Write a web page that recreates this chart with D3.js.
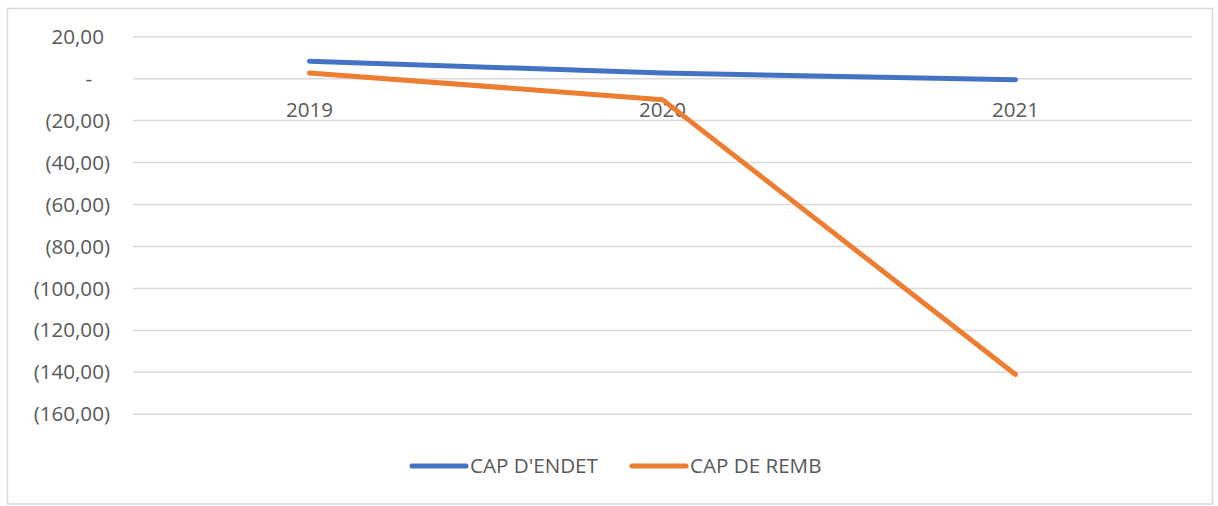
<!DOCTYPE html>
<html>
  <head>
    <meta charset="utf-8">
    <title>CAP D'ENDET / CAP DE REMB</title>
    <script src="https://d3js.org/d3.v7.min.js"></script>
    <style>
      body { margin: 0; background: #fff; }
      svg { display: block; font-family: "Open Sans", sans-serif; }
    </style>
  </head>
  <body>
    <svg id="chart" width="1218" height="506"></svg>
<script>
  // data
  let years = ['2019', '2020', '2021'];
  let capEndet = [8.3, 2.7, -0.5];
  let capRemb = [2.7, -10, -141];
  let seriesNames = ["CAP D'ENDET", 'CAP DE REMB'];
  let seriesColors = ['#4472C4', '#ED7D31'];
  let yTicks = [20, 0, -20, -40, -60, -80, -100, -120, -140, -160];

  let svg = d3.select('#chart');

  let margin = { top: 36.7, left: 133, right: 26, bottom: 91.7 };
  let plotWidth = 1218 - margin.left - margin.right;
  let plotHeight = 506 - margin.top - margin.bottom;
  let fontSize = '20.6px';

  // outer chart border
  svg.append('rect')
    .attr('x', 7.5).attr('y', 8.5)
    .attr('width', 1205).attr('height', 495.5)
    .attr('fill', 'none')
    .attr('stroke', '#d9d9d9')
    .attr('stroke-width', 1.5);

  let plot = svg.append('g').attr('transform', translate(margin.left, margin.top));

  let x = d3.scaleBand().domain(years).range([0, plotWidth]);
  let y = d3.scaleLinear().domain([-160, 20]).range([plotHeight, 0]);

  let fr = d3.formatLocale({ decimal: ',', thousands: ' ', grouping: [3], currency: ['', ''] });
  let fmt = fr.format('.2f');

  // gridlines
  plot.append('g')
    .selectAll('line')
    .data(yTicks)
    .join('line')
    .attr('x1', 0).attr('x2', plotWidth)
    .attr('y1', d => y(d)).attr('y2', d => y(d))
    .attr('stroke', '#d9d9d9')
    .attr('stroke-width', 1.5);

  // y axis labels, accounting style
  let yAxis = d3.axisLeft(y).tickValues(yTicks).tickSize(0).tickPadding(23)
    .tickFormat(d => d < 0 ? '(' + fmt(-d) + ')' : (d === 0 ? '-' : fmt(d)));
  let yGroup = plot.append('g').call(yAxis);
  yGroup.select('.domain').remove();
  yGroup.selectAll('text')
    .attr('fill', '#595959')
    .style('font-size', fontSize)
    .style('font-family', '"Open Sans", sans-serif')
    .each(function(d) {
      // pad positive and zero labels so they line up with the brackets
      if (d > 0) d3.select(this).append('tspan').attr('fill-opacity', 0).text(')');
      if (d === 0) d3.select(this).append('tspan').attr('fill-opacity', 0).text('0)');
    });

  // category labels sit under the zero line
  let xAxis = d3.axisBottom(x).tickSize(0).tickPadding(24);
  let xGroup = plot.append('g').attr('transform', translate(0, y(0))).call(xAxis);
  xGroup.select('.domain').remove();
  xGroup.selectAll('text')
    .attr('fill', '#595959')
    .style('font-size', fontSize)
    .style('font-family', '"Open Sans", sans-serif');

  // lines
  let line = d3.line()
    .x((d, i) => x(years[i]) + x.bandwidth() / 2)
    .y(d => y(d));

  [capEndet, capRemb].forEach((vals, i) => {
    plot.append('path')
      .datum(vals)
      .attr('d', line)
      .attr('fill', 'none')
      .attr('stroke', seriesColors[i])
      .attr('stroke-width', 5)
      .attr('stroke-linecap', 'round')
      .attr('stroke-linejoin', 'round');
  });

  // legend
  let legendX = [412, 632];
  let legendY = 466;
  let legend = svg.append('g');
  seriesNames.forEach((name, i) => {
    legend.append('line')
      .attr('x1', legendX[i]).attr('x2', legendX[i] + 54)
      .attr('y1', legendY).attr('y2', legendY)
      .attr('stroke', seriesColors[i])
      .attr('stroke-width', 5)
      .attr('stroke-linecap', 'round');
    legend.append('text')
      .attr('x', legendX[i] + 58)
      .attr('y', legendY)
      .attr('dy', '0.35em')
      .attr('fill', '#595959')
      .style('font-size', fontSize)
      .text(name);
  });

  function translate(x, y) {
    return 'translate(' + x + ',' + y + ')';
  }
</script>
  </body>
</html>
